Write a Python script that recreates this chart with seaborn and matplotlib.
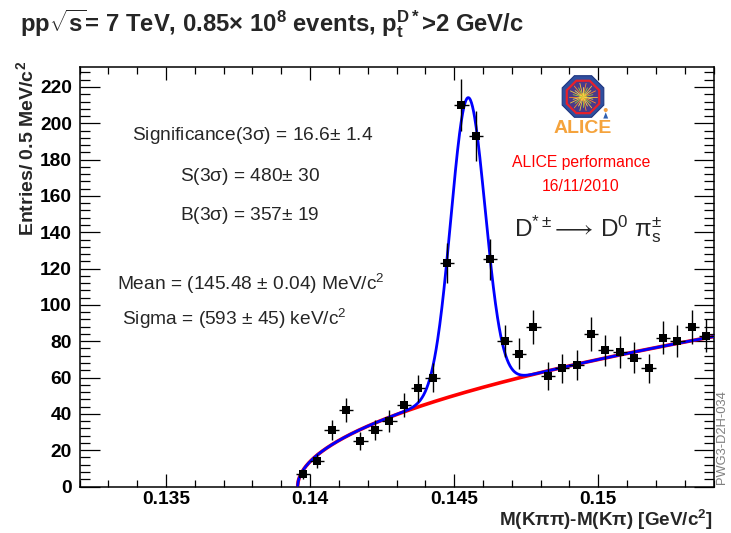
import numpy as np
import pandas as pd
import matplotlib
matplotlib.use("Agg")
import matplotlib.pyplot as plt
import seaborn as sns
from matplotlib.patches import RegularPolygon, Circle, Polygon
from matplotlib.ticker import MultipleLocator, FixedLocator, FixedFormatter

# ---- histogram: M(K pi pi) - M(K pi), 0.5 MeV bins -----------------------
bin_centers = [0.13975, 0.14025, 0.14075, 0.14125, 0.14175, 0.14225, 0.14275,
               0.14325, 0.14375, 0.14425, 0.14475, 0.14525, 0.14575, 0.14625,
               0.14675, 0.14725, 0.14775, 0.14825, 0.14875, 0.14925, 0.14975,
               0.15025, 0.15075, 0.15125, 0.15175, 0.15225, 0.15275, 0.15325,
               0.15375]
entries = [7, 14, 31, 42, 25, 31, 36, 45, 54, 60, 123, 210, 193, 125,
           80, 73, 88, 61, 65, 67, 84, 75, 74, 71, 65, 82, 80, 88, 83]
bin_width = 0.0005

# ---- fit results ---------------------------------------------------------
pion_mass = 0.13957          # threshold of the background function
bkg_norm = 720.0             # A * (dM - m_pi)^p
bkg_power = 0.511
peak_mean = 0.14548          # GeV/c^2
peak_sigma = 0.000593        # GeV/c^2
signal_yield = 481.0         # total Gaussian yield (S(3 sigma) = 480)
fit_xmax = 0.154

# ---- axis ticks ----------------------------------------------------------
x_tick_values = [0.135, 0.14, 0.145, 0.15]
x_tick_labels = ["0.135", "0.14", "0.145", "0.15"]
y_tick_values = [0, 20, 40, 60, 80, 100, 120, 140, 160, 180, 200, 220]
y_tick_labels = ["0", "20", "40", "60", "80", "100", "120", "140", "160",
                 "180", "200", "220"]

sns.set_style("ticks")
plt.rcParams["font.family"] = ["Liberation Sans", "DejaVu Sans"]
plt.rcParams["mathtext.fontset"] = "custom"
plt.rcParams["mathtext.rm"] = "Liberation Sans"
plt.rcParams["mathtext.it"] = "Liberation Sans"
plt.rcParams["mathtext.sf"] = "Liberation Sans"
plt.rcParams["mathtext.bf"] = "Liberation Sans:bold"
plt.rcParams["mathtext.default"] = "regular"

W, H = 731, 533
fig = plt.figure(figsize=(W / 100, H / 100), dpi=100)
fig.patch.set_facecolor("white")


def fx(px):
    return px / W


def fy(py):
    return 1 - py / H


ax = fig.add_axes([fx(79.5), fy(486.5), fx(713.5) - fx(79.5), fy(67) - fy(486.5)])
ax.set_facecolor("white")

# fit curves
x_fit = np.linspace(pion_mass + 1e-6, fit_xmax, 800)
bkg = bkg_norm * (x_fit - pion_mass) ** bkg_power
amp = signal_yield * bin_width / (peak_sigma * np.sqrt(2 * np.pi))
total = bkg + amp * np.exp(-0.5 * ((x_fit - peak_mean) / peak_sigma) ** 2)
fit_df = pd.DataFrame({"dm": x_fit, "bkg": bkg, "total": total})

sns.lineplot(data=fit_df, x="dm", y="bkg", color="#ff0000", linewidth=2.6,
             estimator=None, sort=False, ax=ax, zorder=2)
sns.lineplot(data=fit_df, x="dm", y="total", color="#0000ff", linewidth=2.0,
             estimator=None, sort=False, ax=ax, zorder=3)

# data points with Poisson errors
hist_df = pd.DataFrame({"dm": bin_centers, "entries": entries})
hist_df["err"] = np.sqrt(hist_df["entries"])
ax.errorbar(hist_df["dm"], hist_df["entries"], xerr=bin_width / 2,
            yerr=hist_df["err"], fmt="none", ecolor="black", elinewidth=1.0,
            capsize=0, zorder=4)
sns.scatterplot(data=hist_df, x="dm", y="entries", marker="s", s=30,
                color="black", edgecolor="black", linewidth=0, ax=ax, zorder=5)

ax.set_xlim(0.132, 0.154)
ax.set_ylim(0, 231)
ax.set_xlabel("")
ax.set_ylabel("")

ax.xaxis.set_major_locator(FixedLocator(x_tick_values))
ax.xaxis.set_major_formatter(FixedFormatter(x_tick_labels))
ax.xaxis.set_minor_locator(MultipleLocator(0.001))
ax.yaxis.set_major_locator(FixedLocator(y_tick_values))
ax.yaxis.set_major_formatter(FixedFormatter(y_tick_labels))
ax.yaxis.set_minor_locator(MultipleLocator(4))

ax.tick_params(which="both", direction="in", top=True, right=True,
               color="black", width=0.9, labelsize=13.8, labelcolor="black")
ax.tick_params(axis="x", which="major", length=9.4, pad=3)
ax.tick_params(axis="x", which="minor", length=4.7)
ax.tick_params(axis="y", which="major", length=14.4, pad=5.4)
ax.tick_params(axis="y", which="minor", length=7.2)
for lab in ax.get_xticklabels() + ax.get_yticklabels():
    lab.set_fontweight("bold")
for sp in ax.spines.values():
    sp.set_color("black")
    sp.set_linewidth(1.1)
    sp.set_visible(True)

# axis titles
fig.text(fx(713), fy(526), r"M(K$\pi\pi$)-M(K$\pi$) [GeV/c$^{2}$]",
         ha="right", va="baseline", fontsize=13.6, fontweight="bold")
fig.text(fx(26), fy(61), r"Entries/ 0.5 MeV/c$^{2}$", rotation=90,
         ha="center", va="top", fontsize=14, fontweight="bold")

# header
fig.text(fx(20), fy(31),
         r"pp$\sqrt{\mathbf{s}}$= 7 TeV, 0.85$\times$ 10$^{8}$ events, p$_{t}^{D*}$>2 GeV/c",
         ha="left", va="baseline", fontsize=17.2, fontweight="bold")

# fit summary
stats = [
    (132, 140, r"Significance(3$\sigma$) = 16.6$\pm$ 1.4"),
    (180, 181, r"S(3$\sigma$) = 480$\pm$ 30"),
    (180, 220, r"B(3$\sigma$) = 357$\pm$ 19"),
    (117, 290, r"Mean = (145.48 $\pm$ 0.04) MeV/c$^{2}$"),
    (122, 325, r"Sigma = (593 $\pm$ 45) keV/c$^{2}$"),
]
for px, py, s in stats:
    fig.text(fx(px), fy(py), s, ha="left", va="baseline", fontsize=13.8)

fig.text(fx(581), fy(167), "ALICE performance", ha="center", va="baseline",
         fontsize=11.3, color="#ff0000")
fig.text(fx(581), fy(191), "16/11/2010", ha="center", va="baseline",
         fontsize=11.3, color="#ff0000")
fig.text(fx(514), fy(236),
         r"D$^{*\pm}\!\longrightarrow\!$ D$^{0}$ $\pi^{\pm}_{s}$",
         ha="left", va="baseline", fontsize=17.5)

fig.text(fx(722), fy(437), "PWG3-D2H-034", rotation=90, ha="center",
         va="center", fontsize=9.3, color="#7f7f7f")

# ALICE logo
lax = fig.add_axes([fx(556), fy(119), fx(610) - fx(556), fy(74) - fy(119)])
lax.set_xlim(-1.2, 1.2)
lax.set_ylim(-1.0, 1.0)
lax.set_aspect("equal")
lax.axis("off")
lax.add_patch(RegularPolygon((0, 0), 8, radius=1.0, orientation=np.pi / 8,
                             fc="#2f4f9f", ec="#1f3580", lw=0.8))
lax.add_patch(RegularPolygon((0, -0.02), 8, radius=0.78, orientation=np.pi / 8,
                             fc="#4a3a8a", ec="#e8202a", lw=1.6))
ray_angles = np.linspace(0, 2 * np.pi, 28, endpoint=False)
ray_colors = ["#f7c33b", "#9bd13a", "#ff8a2a", "#f0e050"]
for i, ang in enumerate(ray_angles):
    r = 0.62 if i % 2 == 0 else 0.45
    lax.plot([0, r * np.cos(ang)], [-0.02, -0.02 + r * np.sin(ang)],
             color=ray_colors[i % 4], lw=0.6)
lax.add_patch(Circle((0, -0.02), 0.16, fc="#ffa030", ec="none"))
lax.add_patch(Polygon([[0.9, -0.98], [1.12, -0.98], [1.01, -0.7]],
                      fc="#3060b0", ec="none"))
lax.add_patch(Circle((1.01, -0.6), 0.09, fc="#f5a040", ec="none"))
fig.text(fx(583), fy(133), "ALICE", ha="center", va="baseline",
         fontsize=14, fontweight="bold", color="#f5a33c")

fig.savefig("out.png", dpi=100, facecolor="white")
